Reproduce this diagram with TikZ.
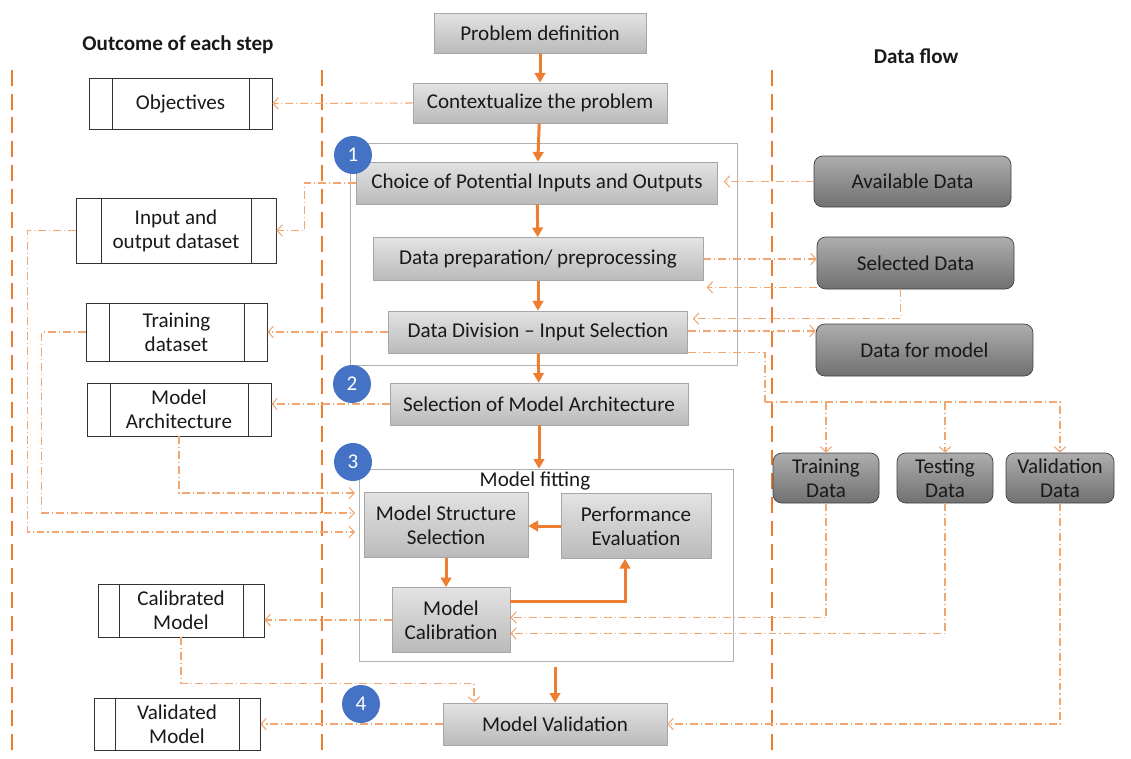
\documentclass[tikz,border=0pt]{standalone}
\usepackage{fontspec}
\setmainfont{Carlito}
\usetikzlibrary{arrows.meta}
\definecolor{orng}{HTML}{ED7D31}
\definecolor{lorng}{HTML}{F2A672}
\definecolor{blu}{HTML}{4472C4}
\begin{document}
\begin{tikzpicture}[x=0.02cm, y=-0.02cm, font=\fontsize{12}{13.6}\selectfont, text=black!90,
  step node/.style 2 args={draw=black!35, top color=black!11, bottom color=black!27, minimum width=#1cm, minimum height=#2cm, align=center, inner sep=1pt},
  out node/.style args={#1/#2/#3}{draw=black!80, minimum width=#1cm, minimum height=#2cm, align=center, inner sep=1pt,
    path picture={\draw[black!80] ([xshift=#3cm]path picture bounding box.north west) -- ([xshift=#3cm]path picture bounding box.south west)
      ([xshift=-#3cm]path picture bounding box.north east) -- ([xshift=-#3cm]path picture bounding box.south east);}},
  data node/.style 2 args={draw=black!75, rounded corners=5pt, top color=black!32, bottom color=black!56, minimum width=#1cm, minimum height=#2cm, align=center, inner sep=1pt},
  num/.style={circle, fill=blu, text=white, minimum size=0.76cm, inner sep=0pt},
  frame/.style 2 args={draw=black!30, minimum width=#1cm, minimum height=#2cm},
  lane/.style={orng, line width=1.4pt, dash pattern=on 9pt off 4.5pt},
  main/.style={orng, line width=1.7pt, -{Triangle[length=5.5pt,width=6pt]}},
  flow/.style={lorng, line width=0.6pt, dash pattern=on 4.5pt off 1.7pt on 0.6pt off 1.7pt, -{Straight Barb[length=3pt,width=6.5pt]}}]
\useasboundingbox (0,0) rectangle (1131,758);

\node[font=\fontsize{12}{14}\selectfont\bfseries] (hl) at (178,45) {Outcome of each step};
\node[font=\fontsize{12}{14}\selectfont\bfseries] (hr) at (916,56) {Data flow};
\draw[lane] (12,70) -- (12,755);
\draw[lane] (322,70) -- (322,755);
\draw[lane] (772,70) -- (772,755);

\node[frame={7.74}{4.44}] (box) at (543.5,254) {};
\node[frame={7.48}{3.84}] (fit) at (546,565) {};
\node (mf) at (535,481) {Model fitting};

\node[step node={4.24}{0.8}]  (pd)     at (540,33)  {Problem definition};
\node[step node={5.08}{0.8}]  (ctx)    at (540,103) {Contextualize the problem};
\node[step node={7.22}{0.84}] (choice) at (537,183) {Choice of Potential Inputs and Outputs};
\node[step node={6.6}{0.86}]  (prep)   at (538,259) {Data preparation/ preprocessing};
\node[step node={5.98}{0.84}] (div)    at (538,332) {Data Division -- Input Selection};
\node[step node={5.96}{0.84}] (sel)    at (539,404) {Selection of Model Architecture};
\node[step node={3.28}{1.3}]  (mss)    at (446,525) {Model Structure\\Selection};
\node[step node={3.0}{1.3}]   (perf)   at (636,526) {Performance\\Evaluation};
\node[step node={2.36}{1.3}]  (cal)    at (451,620) {Model\\Calibration};
\node[step node={4.48}{0.84}] (val)    at (555,724) {Model Validation};

\node[out node=3.66/1.02/0.46] (obj)  at (180.5,103.5) {Objectives};
\node[out node=4.0/1.3/0.5]    (io)   at (176,230.5)  {Input and\\output dataset};
\node[out node=3.62/1.16/0.46] (trd)  at (176.5,332)  {Training\\dataset};
\node[out node=3.68/1.06/0.46] (arch) at (179,409.5)  {Model\\Architecture};
\node[out node=3.32/1.06/0.42] (calm) at (181,610.5)  {Calibrated\\Model};
\node[out node=3.32/1.04/0.42] (valm) at (177,724)    {Validated\\Model};

\node[data node={3.94}{1.02}] (avail)  at (912.5,181.5) {Available Data};
\node[data node={3.94}{1.04}] (seld)   at (915.5,263)   {Selected Data};
\node[data node={4.34}{1.04}] (dfm)    at (924.5,350)   {Data for model};
\node[data node={2.12}{1.0}]  (trdata) at (826,478)     {Training\\Data};
\node[data node={1.92}{1.0}]  (tsdata) at (945,478)     {Testing\\Data};
\node[data node={2.16}{1.0}]  (vldata) at (1060,478)    {Validation\\Data};

\node[num] (n1) at (353,155) {1};
\node[num] (n2) at (352,384) {2};
\node[num] (n3) at (353,462) {3};
\node[num] (n4) at (361,704) {4};

\coordinate (in1) at (355,493);
\coordinate (in2) at (355,513);
\coordinate (in3) at (355,532);
\coordinate (split) at (765,402);

\draw[main] (pd) -- (ctx);
\draw[main] (ctx) -- (choice);
\draw[main] (choice) -- (prep);
\draw[main] (prep) -- (div);
\draw[main] (div) -- (sel);
\draw[main] (sel.south) -- (sel.south |- fit.north);
\draw[main, shorten <=3pt] (val.north |- fit.south) -- (val.north);
\draw[main] (perf.west) -- (perf.west -| mss.east);
\draw[main] (mss.south) -- (mss.south |- cal.north);
\draw[main] ([yshift=0.37cm]cal.east) -| ([xshift=-0.22cm]perf.south);

\draw[flow] (ctx.west) -- (obj.east);
\draw[flow] (choice.west) -- ++(-52,0) |- (io.east);
\draw[flow] (io.west) -- ++(-48,0) |- (in3);
\draw[flow] (trd.west) -- ++(-44,0) |- (in2);
\draw[flow] (arch.south) |- (in1);
\draw[flow] (div.west) -- (trd.east);
\draw[flow] (sel.west) -- (sel.west -| arch.east);
\draw[flow] (avail.west) -- ([xshift=0.12cm]avail.west -| choice.east);
\draw[flow] (prep.east) -- (prep.east -| seld.west);
\draw[flow] ([yshift=0.04cm]seld.south west) -- ++(-110,0);
\draw[flow] ([xshift=-0.3cm]seld.south) |- ([xshift=0.1cm,yshift=-0.16cm]div.north east);
\draw[flow] ([yshift=0.02cm]div.east) -- ([yshift=0.02cm]div.east -| dfm.west);
\draw[flow, -] ([yshift=0.02cm]div.south east) -| (split);
\draw[flow] (split) -| (vldata.north);
\draw[flow] (trdata.north |- split) -- (trdata.north);
\draw[flow] (tsdata.north |- split) -- (tsdata.north);
\draw[flow] (trdata.south) |- ([yshift=0.05cm]cal.east);
\draw[flow] (tsdata.south) |- ([yshift=-0.27cm]cal.east);
\draw[flow] (vldata.south) |- (val.east);
\draw[flow] (cal.west) -- (cal.west -| calm.east);
\draw[flow] (calm.south) -- ++(0,46) -| ([xshift=-1.62cm]val.north);
\draw[flow] (val.west) -- (valm.east);
\end{tikzpicture}
\end{document}
